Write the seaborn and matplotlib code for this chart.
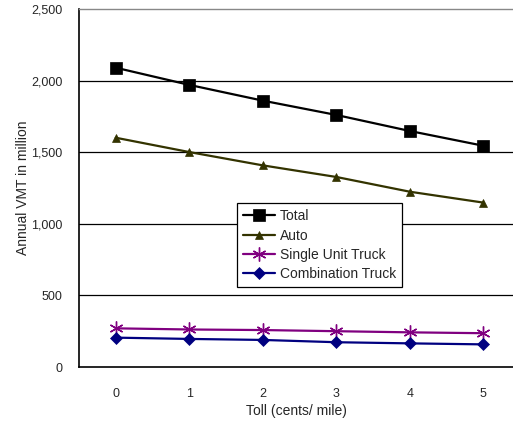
import matplotlib
matplotlib.use("Agg")
import matplotlib.pyplot as plt
import seaborn as sns
import pandas as pd

toll = [0, 1, 2, 3, 4, 5]
total = [2090, 1970, 1860, 1760, 1648, 1545]
auto = [1601, 1501, 1408, 1327, 1224, 1148]
single_unit = [270, 262, 258, 250, 242, 236]
combination = [205, 196, 189, 173, 165, 158]

series_names = ["Total", "Auto", "Single Unit Truck", "Combination Truck"]
series_values = [total, auto, single_unit, combination]
colors = ["#000000", "#333300", "#800080", "#000080"]
markers = ["s", "^", (6, 2, 0), "D"]
msizes = [8, 6, 10, 6]

sns.set_style("white")
plt.rcParams["font.family"] = ["Liberation Sans", "DejaVu Sans"]

fig = plt.figure(figsize=(5.13, 4.23), dpi=100)
ax = fig.add_axes([79 / 513, 56 / 423, 1 - 79 / 513 + 0.001, 358 / 423])

for name, vals, c, m, ms in zip(series_names, series_values, colors, markers, msizes):
    df = pd.DataFrame({"toll": toll, "vmt": vals})
    sns.lineplot(data=df, x="toll", y="vmt", ax=ax, color=c, marker=m,
                 markersize=ms, markeredgecolor=c, markerfacecolor=c,
                 markeredgewidth=1.0 if m == (6, 2, 0) else 0.5,
                 linewidth=1.6, label=name)

ax.set_xlim(-0.5, 5.41)
ax.set_ylim(0, 2500)
ax.set_yticks([0, 500, 1000, 1500, 2000, 2500])
ax.set_yticklabels(["0", "500", "1,000", "1,500", "2,000", "2,500"], fontsize=9)
ax.set_xticks(toll)
ax.set_xticklabels([str(t) for t in toll], fontsize=9)
ax.set_xticks([0.5, 1.5, 2.5, 3.5, 4.5], minor=True)
ax.tick_params(axis="x", which="major", length=0, pad=15)
ax.tick_params(axis="x", which="minor", length=4, direction="in", width=1, color="#333333")
ax.tick_params(axis="y", length=0, pad=12)

for yv in [500, 1000, 1500, 2000]:
    ax.axhline(yv, color="black", linewidth=0.9, zorder=0)

ax.spines["right"].set_visible(False)
ax.spines["top"].set_color("#888888")
ax.spines["top"].set_linewidth(1.0)
ax.spines["left"].set_color("black")
ax.spines["bottom"].set_color("black")
ax.spines["left"].set_linewidth(1.2)
ax.spines["bottom"].set_linewidth(1.2)

ax.set_xlabel("Toll (cents/ mile)", fontsize=10, labelpad=3)
ax.set_ylabel("Annual VMT in million", fontsize=10, labelpad=1)

leg = ax.legend(loc="upper left", bbox_to_anchor=((237 - 79) / 434, 1 - (203 - 9) / 358),
                fontsize=10, frameon=True, fancybox=False, framealpha=1,
                edgecolor="black", borderpad=0.45, labelspacing=0.38,
                handlelength=2.3, handletextpad=0.3, borderaxespad=0)
leg.get_frame().set_linewidth(0.9)

fig.savefig("out.png", dpi=100)
